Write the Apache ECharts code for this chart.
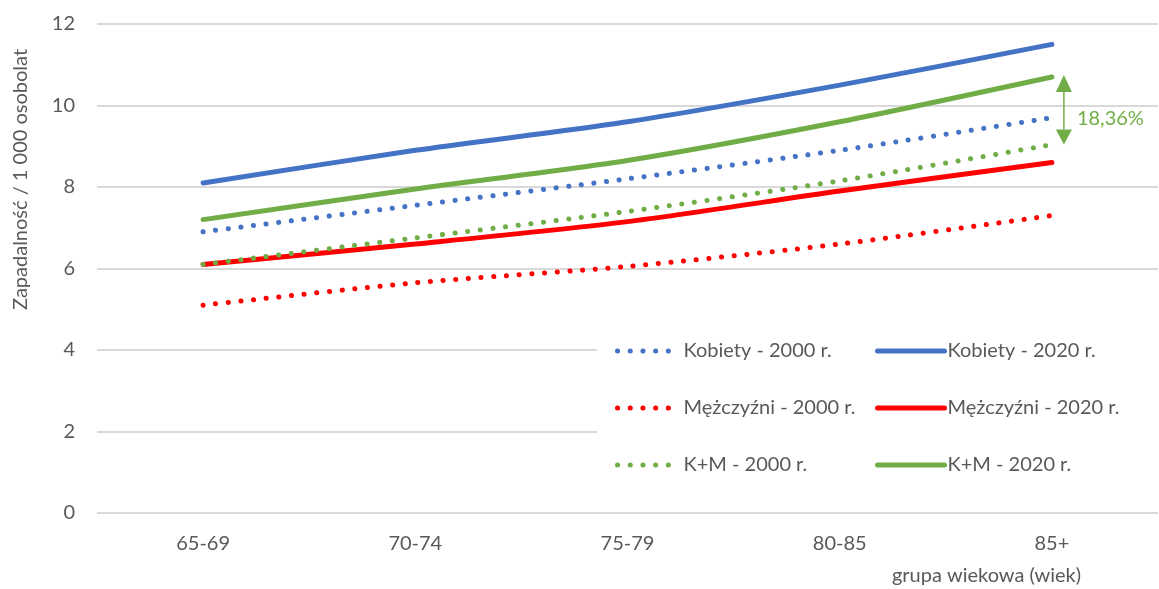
<!DOCTYPE html>
<html>
<head>
<meta charset="utf-8">
<script src="https://cdn.jsdelivr.net/npm/echarts@6/dist/echarts.min.js"></script>
<style>
  html, body { margin: 0; padding: 0; background: #fff; }
  #chart { width: 1159px; height: 589px; }
</style>
</head>
<body>
<div id="chart"></div>
<script>
// age groups
const ageGroups = ['65-69', '70-74', '75-79', '80-85', '85+'];
const yTicks = [0, 2, 4, 6, 8, 10, 12];

// incidence per 1000 person-years
const kobiety2000 = [6.9, 7.55, 8.2, 8.9, 9.7];
const kobiety2020 = [8.1, 8.9, 9.6, 10.5, 11.5];
const mezczyzni2000 = [5.1, 5.65, 6.05, 6.6, 7.3];
const mezczyzni2020 = [6.1, 6.6, 7.15, 7.9, 8.6];
const km2000 = [6.1, 6.75, 7.4, 8.15, 9.04];
const km2020 = [7.2, 7.95, 8.65, 9.6, 10.7];
const diffLabel = '18,36%';

const font = 'Lato';
const gray = '#595959';
const blue = '#4472C4', red = '#FF0000', green = '#70AD47';
const dotPattern = [0.1, 12.6];

const dotted = (color) => ({ color: color, width: 5, type: dotPattern, cap: 'round' });
const solid = (color) => ({ color: color, width: 5, cap: 'round' });

function line(name, data, style) {
  return {
    name: name,
    type: 'line',
    data: data,
    smooth: 0.25,
    symbol: 'none',
    lineStyle: style,
    itemStyle: { color: style.color }
  };
}

function legendCol(left, iconWidth, names, lineStyle) {
  return {
    orient: 'vertical',
    left: left, top: 336,
    itemWidth: iconWidth, itemHeight: 2, itemGap: 37,
    itemStyle: { opacity: 0 },
    lineStyle: lineStyle,
    textStyle: { color: gray, fontFamily: font, fontSize: 20, padding: [0, 0, 0, -2] },
    data: names,
    z: 5
  };
}

const chart = echarts.init(document.getElementById('chart'));
chart.setOption({
  animation: false,
  grid: { left: 97, right: 1, top: 24, bottom: 76, containLabel: false, outerBoundsMode: 'none' },
  xAxis: {
    type: 'category',
    data: ageGroups,
    boundaryGap: true,
    axisLine: { show: false },
    axisTick: { show: false },
    axisLabel: { color: gray, fontFamily: font, fontSize: 20, margin: 21 },
    name: 'grupa wiekowa (wiek)',
    nameLocation: 'end',
    nameGap: 0,
    nameTextStyle: {
      color: gray, fontFamily: font, fontSize: 20,
      align: 'right', verticalAlign: 'top',
      padding: [53, 77, 0, 0]
    }
  },
  yAxis: {
    type: 'value',
    min: 0,
    max: 12,
    interval: 2,
    axisLine: { show: false },
    axisTick: { show: false },
    axisLabel: { color: gray, fontFamily: font, fontSize: 20, margin: 22 },
    splitLine: { lineStyle: { color: '#D9D9D9', width: 2 } },
    name: 'Zapadalność / 1 000 osobolat',
    nameLocation: 'middle',
    nameRotate: 90,
    nameGap: 66,
    nameTextStyle: {
      color: gray, fontFamily: font, fontSize: 20,
      padding: [0, 0, 0, 178]
    }
  },
  legend: [
    legendCol(610, 63, ['Kobiety - 2000 r.', 'Mężczyźni - 2000 r.', 'K+M - 2000 r.'],
      { width: 5, type: dotPattern, cap: 'round' }),
    legendCol(870, 67, ['Kobiety - 2020 r.', 'Mężczyźni - 2020 r.', 'K+M - 2020 r.'],
      { width: 5, type: 'solid', cap: 'round' })
  ],
  series: [
    line('Kobiety - 2000 r.', kobiety2000, dotted(blue)),
    line('Kobiety - 2020 r.', kobiety2020, solid(blue)),
    line('Mężczyźni - 2000 r.', mezczyzni2000, dotted(red)),
    line('Mężczyźni - 2020 r.', mezczyzni2020, solid(red)),
    line('K+M - 2000 r.', km2000, dotted(green)),
    line('K+M - 2020 r.', km2020, solid(green))
  ]
});

// white box behind the legend + the 2000 -> 2020 arrow at 85+
const last = ageGroups.length - 1;
const pTop = chart.convertToPixel({ xAxisIndex: 0, yAxisIndex: 0 }, [last, km2020[last]]);
const pBot = chart.convertToPixel({ xAxisIndex: 0, yAxisIndex: 0 }, [last, km2000[last]]);
const ax = pTop[0] + 12;
const head = 15, hw = 8;
chart.setOption({
  graphic: [
    {
      type: 'rect', z: 3, silent: true,
      shape: { x: 597, y: 322, width: 562, height: 170 },
      style: { fill: '#fff' }
    },
    {
      type: 'line', z: 6,
      shape: { x1: ax, y1: pTop[1] + head, x2: ax, y2: pBot[1] - head },
      style: { stroke: green, lineWidth: 1.5 }
    },
    {
      type: 'polygon', z: 6,
      shape: { points: [[ax, pTop[1] - 2], [ax - hw, pTop[1] + head], [ax + hw, pTop[1] + head]] },
      style: { fill: green }
    },
    {
      type: 'polygon', z: 6,
      shape: { points: [[ax, pBot[1]], [ax - hw, pBot[1] - head], [ax + hw, pBot[1] - head]] },
      style: { fill: green }
    },
    {
      type: 'text', z: 6,
      x: ax + 13, y: (pTop[1] + pBot[1]) / 2 + 8,
      style: { text: diffLabel, fill: green, font: '20px Lato', verticalAlign: 'middle' }
    }
  ]
});
</script>
</body>
</html>
